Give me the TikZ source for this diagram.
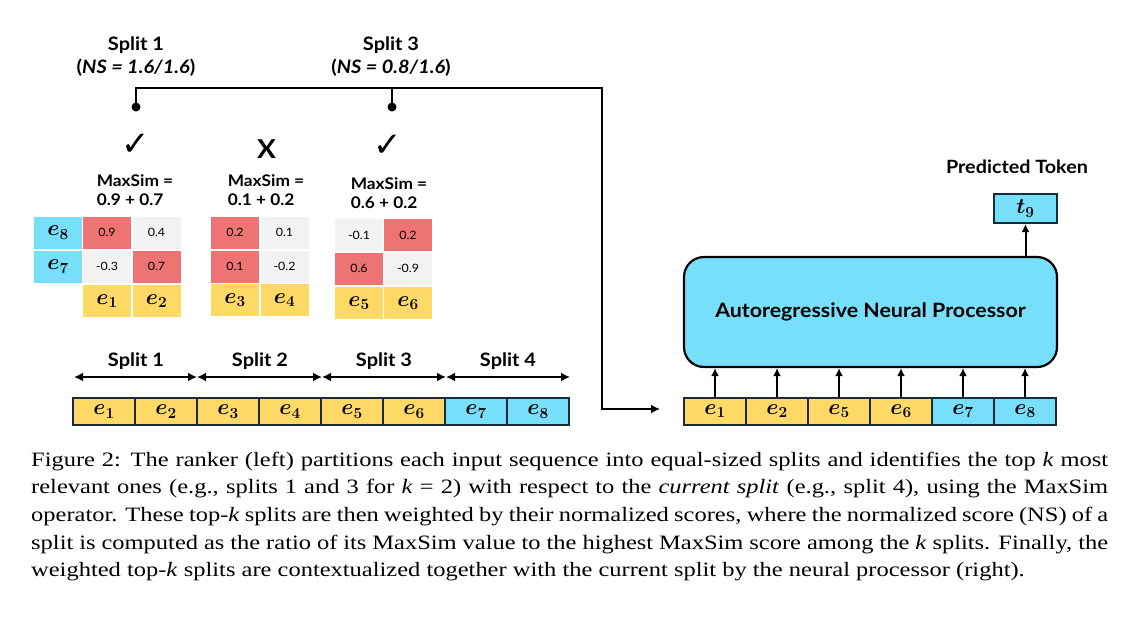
\RequirePackage{fix-cm}
\documentclass[tikz,border=0pt]{standalone}
\usepackage{fontspec}
\usepackage{bm}
\setmainfont{Liberation Serif}[FakeStretch=1.2]
\newfontfamily\diagfont{Lato}[FakeStretch=1.08]
\newfontfamily\symbfont{DejaVu Sans}
\usetikzlibrary{arrows.meta}
\definecolor{cellred}{HTML}{EE7373}
\definecolor{cellgray}{HTML}{F2F2F2}
\definecolor{tokyel}{HTML}{FFD966}
\definecolor{tokblue}{HTML}{78DFFB}
\definecolor{navy}{HTML}{1B2A38}
\newcommand{\tok}[1]{$\bm{e}_{\bm{#1}}$}
\begin{document}
\begin{tikzpicture}[x=1pt,y=-1pt,
  lbl/.style={font=\diagfont\bfseries\fontsize{18.5}{18.5}\selectfont, inner sep=0},
  msim/.style={font=\diagfont\bfseries\fontsize{16}{19.5}\selectfont, align=left, inner sep=0},
  cell/.style={minimum width=48pt, minimum height=32pt, inner sep=0, font=\diagfont\fontsize{11.5}{11.5}\selectfont},
  redcell/.style={cell, fill=cellred},
  graycell/.style={cell, fill=cellgray},
  ecell/.style={minimum width=48pt, minimum height=32pt, inner sep=0, font=\fontsize{22}{22}\selectfont},
  ycell/.style={ecell, fill=tokyel},
  bcell/.style={ecell, fill=tokblue},
  seqy/.style={draw=navy, line width=2pt, fill=tokyel, minimum width=62pt, minimum height=27pt, inner sep=0, font=\fontsize{22}{22}\selectfont},
  seqb/.style={seqy, fill=tokblue},
  conn/.style={line width=2.4pt, line cap=rect},
  arr/.style={line width=2pt, -{Latex[length=8pt,width=8pt]}},
  darr/.style={line width=2pt, {Latex[length=9pt,width=9pt]}-{Latex[length=9pt,width=9pt]}},
  dot/.style={circle, fill=black, minimum size=9pt, inner sep=0},
  chk/.style={font=\symbfont\bfseries\fontsize{34}{34}\selectfont, inner sep=0}
]
\useasboundingbox (0,0) rectangle (1135,616);

% top labels
\node[lbl] (t1a) at (136,45) {Split 1};
\node[lbl] (t1b) at (136,68) {({\itshape NS = 1.6/1.6})};
\node[lbl] (t3a) at (391,45) {Split 3};
\node[lbl] (t3b) at (391,68) {({\itshape NS = 0.8/1.6})};

% connector
\node[dot] (d1) at (136,107) {};
\node[dot] (d3) at (392,107) {};
\coordinate (tr) at (602,88);
\coordinate (ain) at (660,409);
\draw[conn] (d1.center) |- (tr);
\draw[conn] (d3.center) -- (d3.center |- tr);
\draw[conn, -{Latex[length=9pt,width=9pt]}] (tr) |- (ain);

% marks
\node[chk] (m1) at (135.5,145) {✓};
\node[font=\diagfont\bfseries\fontsize{26}{26}\selectfont, inner sep=0] (m2) at (266.5,149) {X};
\node[chk] (m3) at (388,146) {✓};

% MaxSim
\node[msim] (ms1) at (135,190) {MaxSim =\\0.9 + 0.7};
\node[msim] (ms2) at (266,190) {MaxSim =\\0.1 + 0.2};
\node[msim] (ms3) at (389,193) {MaxSim =\\0.6 + 0.2};

% left matrix
\node[bcell] (L8) at (58,232.5) {\tok{8}};
\node[bcell] (L7) at (58,266.5) {\tok{7}};
\node[redcell] (La) at (107,232.5) {0.9};
\node[graycell] (Lb) at (156.5,232.5) {0.4};
\node[graycell] (Lc) at (107,266.5) {-0.3};
\node[redcell] (Ld) at (156.5,266.5) {0.7};
\node[ycell] (L1) at (107,301) {\tok{1}};
\node[ycell] (L2) at (156.5,301) {\tok{2}};

% middle matrix
\node[redcell] (Ma) at (235,232.5) {0.2};
\node[graycell] (Mb) at (284.5,232.5) {0.1};
\node[redcell] (Mc) at (235,266.5) {0.1};
\node[graycell] (Md) at (284.5,266.5) {-0.2};
\node[ycell] (M3) at (235,300) {\tok{3}};
\node[ycell] (M4) at (284.5,300) {\tok{4}};

% right matrix
\node[graycell] (Ra) at (359,235) {-0.1};
\node[redcell] (Rb) at (408,235) {0.2};
\node[redcell] (Rc) at (359,268.5) {0.6};
\node[graycell] (Rd) at (408,268.5) {-0.9};
\node[ycell] (R5) at (359,303) {\tok{5}};
\node[ycell] (R6) at (408,303) {\tok{6}};

% split arrows
\coordinate (s0) at (74,377);
\coordinate (s1) at (197,377);
\coordinate (s2) at (322,377);
\coordinate (s3) at (446,377);
\coordinate (s4) at (570,377);
\draw[darr] (s0) -- (s1);
\draw[darr] (s1) -- (s2);
\draw[darr] (s2) -- (s3);
\draw[darr] (s3) -- (s4);
\node[lbl] (sp1) at (136,361) {Split 1};
\node[lbl] (sp2) at (260,361) {Split 2};
\node[lbl] (sp3) at (384,361) {Split 3};
\node[lbl] (sp4) at (508,361) {Split 4};

% left sequence
\node[seqy] (q1) at (104,411.5) {\tok{1}};
\node[seqy] (q2) at (166,411.5) {\tok{2}};
\node[seqy] (q3) at (228,411.5) {\tok{3}};
\node[seqy] (q4) at (290,411.5) {\tok{4}};
\node[seqy] (q5) at (352,411.5) {\tok{5}};
\node[seqy] (q6) at (414,411.5) {\tok{6}};
\node[seqb] (q7) at (476,411.5) {\tok{7}};
\node[seqb] (q8) at (538,411.5) {\tok{8}};

% processor
\node[draw=black, line width=2.2pt, fill=tokblue, rounded corners=20pt, minimum width=373pt, minimum height=110pt, font=\diagfont\bfseries\fontsize{19.8}{19.8}\selectfont] (proc) at (870.5,312) {Autoregressive Neural Processor};

% right sequence
\node[seqy] (r1) at (715,411) {\tok{1}};
\node[seqy] (r2) at (777,411) {\tok{2}};
\node[seqy] (r5) at (839,411) {\tok{5}};
\node[seqy] (r6) at (901,411) {\tok{6}};
\node[seqb] (r7) at (963,411) {\tok{7}};
\node[seqb] (r8) at (1025,411) {\tok{8}};
\foreach \n in {r1,r2,r5,r6,r7,r8}
  \draw[arr] (\n.north) -- (\n.north |- proc.south);

% output
\node[seqb, minimum width=63pt, minimum height=29pt] (t9) at (1025.5,208.5) {$\bm{t}_{\bm{9}}$};
\draw[arr] (t9.south |- proc.north) -- (t9.south);
\node[lbl, font=\diagfont\bfseries\fontsize{18.3}{18.3}\selectfont] (pt) at (1017,167) {Predicted Token};

% caption
\node[anchor=north west, inner sep=0, text width=1077pt, align=justify, font=\fontsize{20.4}{27.7}\selectfont] (cap) at (31,451.5) {Figure 2: The ranker (left) partitions each input sequence into equal-sized splits and identifies the top \textit{k} most\linebreak
relevant ones (e.g., splits 1 and 3 for \textit{k} = 2) with respect to the \textit{current split} (e.g., split 4), using the MaxSim\linebreak
operator. These top-\textit{k} splits are then weighted by their normalized scores, where the normalized score (NS) of a\linebreak
split is computed as the ratio of its MaxSim value to the highest MaxSim score among the \textit{k} splits. Finally, the\linebreak
weighted top-\textit{k} splits are contextualized together with the current split by the neural processor (right).};
\end{tikzpicture}
\end{document}
